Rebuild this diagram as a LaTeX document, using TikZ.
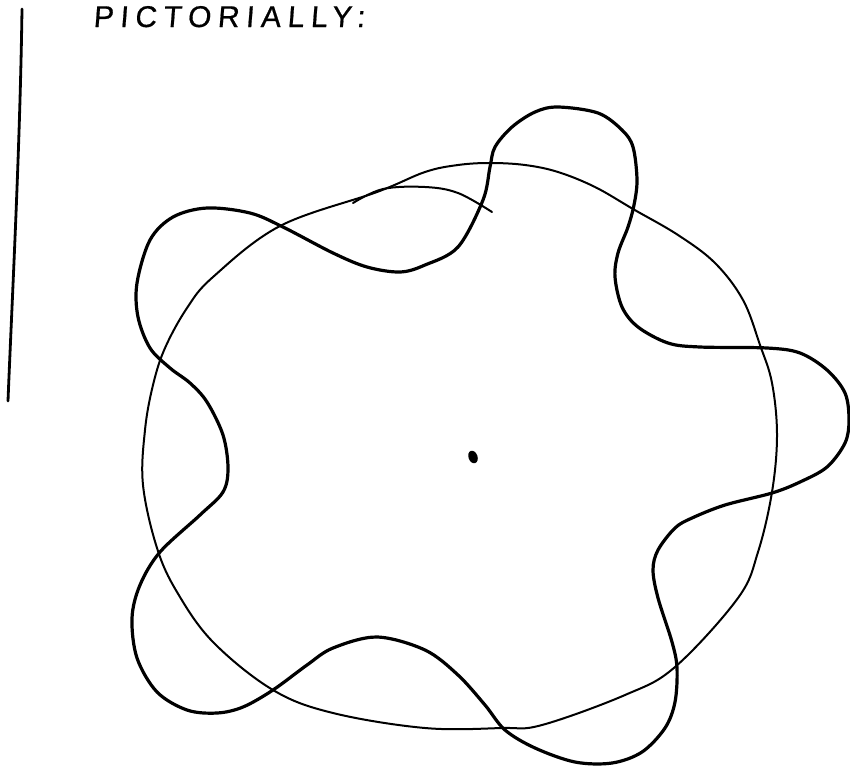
\documentclass[tikz,border=0pt]{standalone}
\usepackage{fontspec}
\newfontfamily\handfont[LetterSpace=22,FakeSlant=0.08,FakeBold=0.6]{Liberation Sans}
\begin{document}
\begin{tikzpicture}[x=1pt,y=-1pt,
  thickline/.style={line width=3.2pt,line join=round,line cap=round},
  thinline/.style={line width=2pt,line join=round,line cap=round},
  title/.style={font=\handfont\fontsize{30}{30}\selectfont,inner sep=0pt,anchor=base west}]
\useasboundingbox (0,0) rectangle (850,769);
% left margin line
\coordinate (vtop) at (22,9);
\coordinate (vbot) at (8,401);
\draw[line width=2.8pt,line cap=round] (vtop) .. controls (20,150) and (12,300) .. (vbot);
% title
\node[title] (ttl) at (93,27) {PICTORIALLY:};
% circle (hand drawn)
\draw[thinline] plot[smooth cycle,tension=0.6] coordinates {
 (490,163) (525,165) (558,172) (595,187) (633,209) (678,235) (715,263) (743,300)
 (760,345) (772,383) (777,435) (772,492) (758,552) (738,598) (675,667) (625,695)
 (542,725) (502,728) (425,728) (333,713) (273,690) (213,642) (177,592) (157,548)
 (143,485) (145,430) (153,385) (165,348) (187,308) (213,277) (280,226) (377,192) (425,172) (458,165)};
% overlapping stroke of the circle
\draw[thinline] plot[smooth,tension=0.6] coordinates {
 (353,203) (383,189) (425,187) (458,193) (492,212)};
% wavy curve
\draw[thickline] plot[smooth cycle,tension=0.55] coordinates {
 (425,265) (400,272) (367,267) (333,253) (283,227) (250,213) (207,208) (173,217)
 (150,240) (137,283) (138,317) (150,348) (170,368) (190,383) (207,402) (223,435)
 (228,468) (223,492) (200,515) (160,552) (140,585) (132,618) (137,658) (157,692)
 (187,710) (217,713) (243,707) (273,690) (307,665) (333,648) (377,637) (425,650)
 (458,675) (485,705) (505,730) (535,748) (575,762) (612,763) (642,752) (665,728)
 (675,702) (677,668) (672,642) (658,598) (653,570) (658,550) (675,528) (692,518)
 (725,505) (772,493) (800,482) (827,467) (845,443) (849,420) (845,393) (827,370)
 (800,353) (767,348) (700,347) (668,343) (638,327) (622,307) (615,277) (618,253)
 (628,227) (634,205) (637,180) (633,147) (622,130) (598,113) (558,107) (535,112)
 (512,127) (495,147) (490,167) (483,200) (458,247)};
% centre dot
\coordinate (ctr) at (473,457);
\fill[rotate around={20:(ctr)}] (ctr) ellipse [x radius=4.5,y radius=6.5];
\end{tikzpicture}
\end{document}
